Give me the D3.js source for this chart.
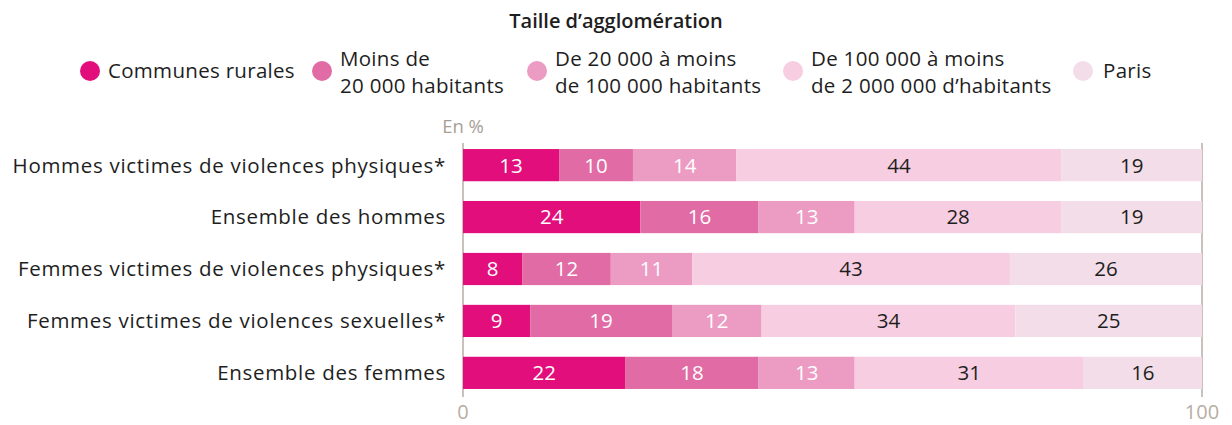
<!DOCTYPE html>
<html>
<head>
  <meta charset="UTF-8">
  <title>Taille d'agglomération</title>
  <script src="https://cdn.jsdelivr.net/npm/d3@7"></script>
  <style>
    body { margin: 0; background: #fff; font-family: "Open Sans", sans-serif; }
    svg text { font-family: "Open Sans", sans-serif; }
  </style>
</head>
<body>
  <div id="chart"></div>
  <script>
    // data
    var categories = [
      "Hommes victimes de violences physiques*",
      "Ensemble des hommes",
      "Femmes victimes de violences physiques*",
      "Femmes victimes de violences sexuelles*",
      "Ensemble des femmes"
    ];
    var seriesNames = [
      ["Communes rurales"],
      ["Moins de", "20 000 habitants"],
      ["De 20 000 à moins", "de 100 000 habitants"],
      ["De 100 000 à moins", "de 2 000 000 d’habitants"],
      ["Paris"]
    ];
    var rurales = [13, 24, 8, 9, 22];
    var moins20k = [10, 16, 12, 19, 18];
    var de20kA100k = [14, 13, 11, 12, 13];
    var de100kA2M = [44, 28, 43, 34, 31];
    var paris = [19, 19, 26, 25, 16];
    var tickValues = [0, 100];

    var colors = ["#e20e7c", "#e16ba4", "#ec9bc2", "#f7cde1", "#f2dde8"];
    var textColors = ["#fff", "#fff", "#fff", "#1e1e1e", "#1e1e1e"];

    var width = 1232, height = 425;
    var margin = { left: 463, right: 30, top: 148, bottom: 38 };

    var svg = d3.select('#chart').append('svg')
      .attr('width', width)
      .attr('height', height);

    var x = d3.scaleLinear().domain([0, 100]).range([margin.left, 1202]);
    var y = d3.scaleBand().domain(categories).range([margin.top, 390]).paddingInner(0.38).paddingOuter(0.02);

    // rows built from the series arrays, normalised to 100
    var allSeries = [rurales, moins20k, de20kA100k, de100kA2M, paris];
    var rows = categories.map(function (c, i) {
      var vals = allSeries.map(function (s) { return s[i]; });
      var total = d3.sum(vals);
      var acc = 0;
      return vals.map(function (v, k) {
        var seg = { cat: c, k: k, v: v, x0: acc * 100 / total, x1: (acc + v) * 100 / total };
        acc += v;
        return seg;
      });
    });

    // gridlines 0 and 100
    svg.append('g').selectAll('line')
      .data(tickValues)
      .enter().append('line')
      .attr('x1', d => x(d)).attr('x2', d => x(d))
      .attr('y1', 143).attr('y2', 397)
      .attr('stroke', '#b7ada5').attr('stroke-width', 1.5);

    var rowG = svg.append('g').selectAll('g')
      .data(rows)
      .enter().append('g');

    rowG.selectAll('rect')
      .data(d => d)
      .enter().append('rect')
      .attr('x', d => x(d.x0))
      .attr('width', d => x(d.x1) - x(d.x0))
      .attr('y', d => y(d.cat))
      .attr('height', y.bandwidth())
      .attr('fill', d => colors[d.k]);

    rowG.selectAll('text')
      .data(d => d)
      .enter().append('text')
      .attr('x', d => (x(d.x0) + x(d.x1)) / 2)
      .attr('y', d => y(d.cat) + y.bandwidth() / 2)
      .attr('dy', '0.36em')
      .attr('text-anchor', 'middle')
      .attr('font-size', 20.5)
      .attr('fill', d => textColors[d.k])
      .text(d => d.v);

    // category labels
    svg.append('g').selectAll('text')
      .data(categories)
      .enter().append('text')
      .attr('x', 446)
      .attr('y', d => y(d) + y.bandwidth() / 2)
      .attr('dy', '0.36em')
      .attr('text-anchor', 'end')
      .attr('font-size', 20.5)
      .attr('letter-spacing', 0.7)
      .attr('fill', '#1e1e1e')
      .text(d => d);

    // axis tick labels
    svg.append('g').selectAll('text')
      .data(tickValues)
      .enter().append('text')
      .attr('x', d => x(d))
      .attr('y', 419)
      .attr('text-anchor', 'middle')
      .attr('font-size', 20)
      .attr('fill', '#b7ada5')
      .text(d => d);

    svg.append('text')
      .attr('x', 463).attr('y', 133)
      .attr('text-anchor', 'middle')
      .attr('font-size', 18.5)
      .attr('fill', '#a89e96')
      .text('En %');

    // legend
    svg.append('text')
      .attr('x', 616).attr('y', 28)
      .attr('text-anchor', 'middle')
      .attr('font-size', 20)
      .attr('font-weight', 600)
      .attr('fill', '#1e1e1e')
      .text('Taille d’agglomération');

    var legendX = [90, 322, 537, 793, 1083];
    var leg = svg.append('g').selectAll('g')
      .data(seriesNames)
      .enter().append('g')
      .attr('transform', (d, i) => 'translate(' + legendX[i] + ',71)');

    leg.append('circle')
      .attr('r', 10)
      .attr('fill', (d, i) => colors[i]);

    leg.append('text')
      .attr('x', (d, i) => i == 4 ? 20 : 18)
      .attr('font-size', 20.5)
      .attr('letter-spacing', 0.3)
      .attr('fill', '#1e1e1e')
      .selectAll('tspan')
      .data(d => d.map(function (t, j) { return { t: t, j: j, n: d.length }; }))
      .enter().append('tspan')
      .attr('x', function () { return d3.select(this.parentNode).attr('x'); })
      .attr('y', d => d.n == 1 ? 7 : (d.j == 0 ? -5 : 22))
      .text(d => d.t);
  </script>
</body>
</html>
